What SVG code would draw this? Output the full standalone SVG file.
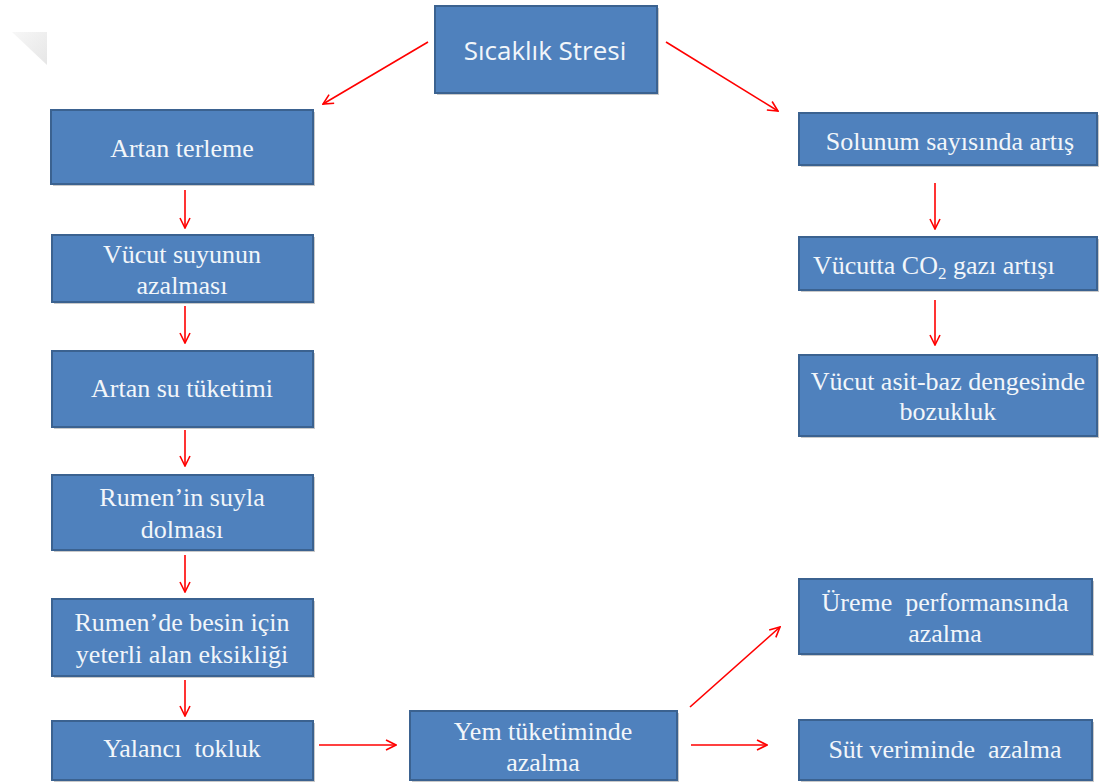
<svg xmlns="http://www.w3.org/2000/svg" width="1099" height="782" viewBox="0 0 1099 782">
<defs>
<marker id="ah" viewBox="0 0 12 12" refX="11" refY="6" markerWidth="12" markerHeight="12" markerUnits="userSpaceOnUse" orient="auto">
<path d="M1,1 L11,6 L1,11" fill="none" stroke="#FF0000" stroke-width="1.6"/>
</marker>
<linearGradient id="tri" x1="0" y1="0" x2="1" y2="1">
<stop offset="0" stop-color="#f7f7f7"/>
<stop offset="1" stop-color="#e6e6e6"/>
</linearGradient>
</defs>
<style>
.box{fill:#4F81BD;stroke:#3B6290;stroke-width:2}
.sh{fill:#c9c9c9}
.t{font-family:"Liberation Serif","Times New Roman",serif;font-size:26px;fill:#F2F6FA;text-anchor:middle;white-space:pre}
.s{font-family:"Open Sans","Noto Sans",sans-serif;font-size:26px;fill:#F2F6FA;text-anchor:middle}
.st{text-anchor:start}
.c{fill:none;stroke:#FF0000;stroke-width:1.6;marker-end:url(#ah)}
</style>
<rect width="1099" height="782" fill="#ffffff"/>
<polygon points="12,32 47,32 47,65" fill="url(#tri)"/>

<g id="n-stres"><rect class="sh" x="437" y="8" width="222" height="87"/><rect class="box" x="435" y="6" width="222" height="87"/><text class="s" x="545" y="60">Sıcaklık Stresi</text></g>
<g id="n-terleme"><rect class="sh" x="53" y="112" width="262" height="74"/><rect class="box" x="51" y="110" width="262" height="74"/><text class="t" x="182" y="157">Artan terleme</text></g>
<g id="n-suyu"><rect class="sh" x="54" y="237" width="261" height="67"/><rect class="box" x="52" y="235" width="261" height="67"/><text class="t" x="182" y="263">Vücut suyunun</text><text class="t" x="182" y="294">azalması</text></g>
<g id="n-tuketim"><rect class="sh" x="54" y="353" width="261" height="76"/><rect class="box" x="52" y="351" width="261" height="76"/><text class="t" x="182" y="397">Artan su tüketimi</text></g>
<g id="n-rumen1"><rect class="sh" x="54" y="477" width="261" height="75"/><rect class="box" x="52" y="475" width="261" height="75"/><text class="t" x="182" y="506">Rumen’in suyla</text><text class="t" x="182" y="538">dolması</text></g>
<g id="n-rumen2"><rect class="sh" x="54" y="601" width="261" height="77"/><rect class="box" x="52" y="599" width="261" height="77"/><text class="t" x="182" y="631">Rumen’de besin için</text><text class="t" x="182" y="663">yeterli alan eksikliği</text></g>
<g id="n-yalanci"><rect class="sh" x="54" y="723" width="261" height="59"/><rect class="box" x="52" y="721" width="261" height="59"/><text class="t" x="182" y="757">Yalancı  tokluk</text></g>
<g id="n-yem"><rect class="sh" x="412" y="713" width="267" height="69"/><rect class="box" x="410" y="711" width="267" height="69"/><text class="t" x="543" y="740">Yem tüketiminde</text><text class="t" x="543" y="771">azalma</text></g>
<g id="n-solunum"><rect class="sh" x="801" y="115" width="298" height="52"/><rect class="box" x="799" y="113" width="298" height="52"/><text class="t" x="950" y="150">Solunum sayısında artış</text></g>
<g id="n-co2"><rect class="sh" x="801" y="239" width="298" height="53"/><rect class="box" x="799" y="237" width="298" height="53"/><text class="t st" x="813" y="274">Vücutta CO<tspan font-size="17" dy="5">2</tspan><tspan dy="-5"> gazı artışı</tspan></text></g>
<g id="n-asit"><rect class="sh" x="801" y="357" width="298" height="81"/><rect class="box" x="799" y="355" width="298" height="81"/><text class="t" x="948" y="390">Vücut asit-baz dengesinde</text><text class="t" x="948" y="420">bozukluk</text></g>
<g id="n-ureme"><rect class="sh" x="801" y="581" width="293" height="75"/><rect class="box" x="799" y="579" width="293" height="75"/><text class="t" x="945" y="611">Üreme  performansında</text><text class="t" x="945" y="642">azalma</text></g>
<g id="n-sut"><rect class="sh" x="801" y="722" width="293" height="60"/><rect class="box" x="799" y="720" width="293" height="60"/><text class="t" x="945" y="758">Süt veriminde  azalma</text></g>

<g id="connectors">
<path class="c" d="M428,42 L323,104"/>
<path class="c" d="M666,42 L778,111"/>
<path class="c" d="M185,190 L185,228"/>
<path class="c" d="M185,306 L185,343"/>
<path class="c" d="M185,430 L185,466"/>
<path class="c" d="M185,555 L185,592"/>
<path class="c" d="M185,680 L185,716"/>
<path class="c" d="M935,183 L935,229"/>
<path class="c" d="M935,300 L935,345"/>
<path class="c" d="M319,745 L396,745"/>
<path class="c" d="M690,707 L780,627"/>
<path class="c" d="M691,745 L767,745"/>
</g>
</svg>
